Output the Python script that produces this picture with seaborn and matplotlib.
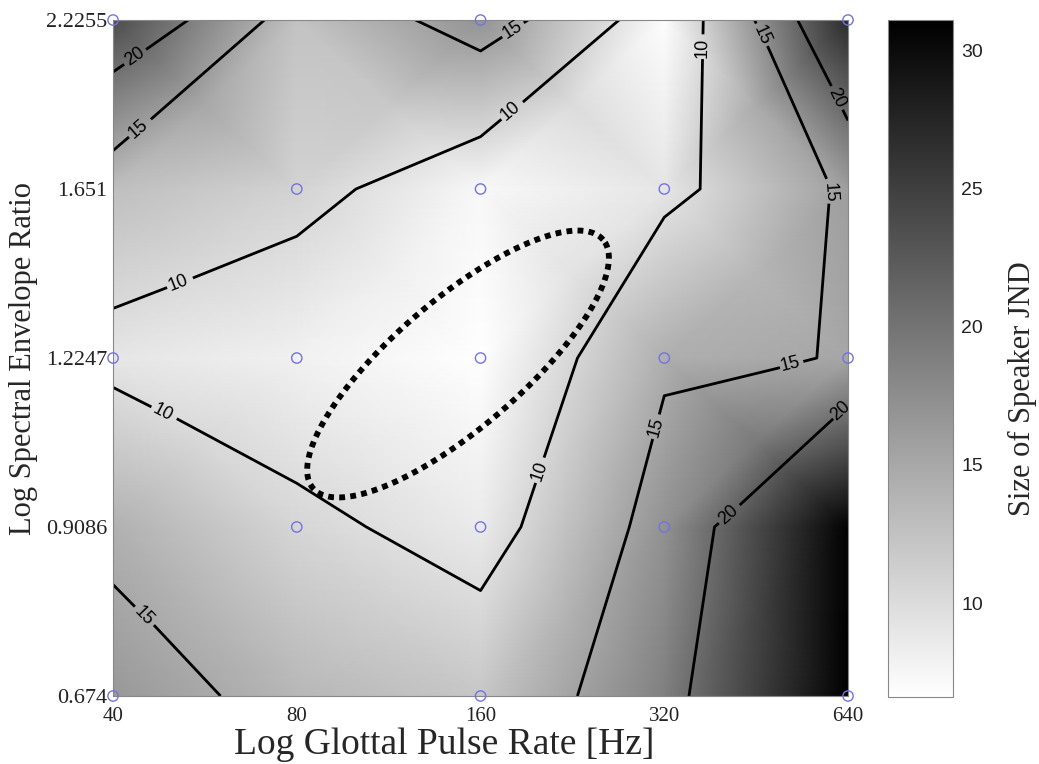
import matplotlib
matplotlib.use("Agg")
import matplotlib.pyplot as plt
import numpy as np
import seaborn as sns

sns.set_style("white")
plt.rcParams['font.family'] = ['Liberation Serif', 'DejaVu Serif']

# grid of the experiment (log spaced)
rates = [40, 80, 160, 320, 640]
ratios = [0.674, 0.9086, 1.2247, 1.651, 2.2255]
rate_labels = ['40', '80', '160', '320', '640']
ratio_labels = ['0.674', '0.9086', '1.2247', '1.651', '2.2255']

# size of speaker JND, one row per envelope ratio (bottom -> top)
jnd_0674 = [16.5, 13.5, 12.0, 18.8, 31.1]
jnd_09086 = [14.1, 10.6, 8.6, 17.1, 31.0]
jnd_12247 = [9.0, 8.0, 6.6, 14.3, 15.2]
jnd_1651 = [12.8, 10.9, 7.3, 9.0, 15.9]
jnd_22255 = [23.7, 12.4, 17.0, 6.8, 27.0]

# conditions actually measured (blue circles)
meas_rate = [40, 160, 640, 80, 160, 320, 40, 80, 160, 320, 640, 80, 160, 320, 40, 160, 640]
meas_ratio = [2.2255, 2.2255, 2.2255, 1.651, 1.651, 1.651, 1.2247, 1.2247, 1.2247, 1.2247, 1.2247,
              0.9086, 0.9086, 0.9086, 0.674, 0.674, 0.674]

levels = [10, 15, 20]

Z = np.array([jnd_0674, jnd_09086, jnd_12247, jnd_1651, jnd_22255])
X, Y = np.meshgrid(rates, ratios)

fig = plt.figure(figsize=(10.39, 7.64), dpi=100)
ax = fig.add_axes([0.1088, 0.0890, 0.7074, 0.8848])
cax = fig.add_axes([0.8547, 0.0877, 0.0626, 0.8861])

mesh = ax.pcolormesh(X, Y, Z, shading='gouraud', cmap='gray_r',
                     vmin=Z.min(), vmax=Z.max(), rasterized=True)
cs = ax.contour(X, Y, Z, levels=levels, colors='black', linewidths=2.0)

ax.set_xscale('log', base=2)
ax.set_yscale('log')
ax.set_xlim(rates[0], rates[-1])
ax.set_ylim(ratios[0], ratios[-1])
ax.set_xticks(rates)
ax.set_xticklabels(rate_labels)
ax.set_yticks(ratios)
ax.set_yticklabels(ratio_labels)
ax.minorticks_off()
ax.tick_params(direction='in', length=4, colors='#222222')
ax.tick_params(axis='x', labelsize=15, pad=8)
ax.tick_params(axis='y', labelsize=16, pad=4)
for sp in ax.spines.values():
    sp.set_color('#888888')
    sp.set_linewidth(0.8)


def frac_to_data(fx, fy):
    return (rates[0] * (rates[-1] / rates[0]) ** fx,
            ratios[0] * (ratios[-1] / ratios[0]) ** fy)


label_spots = [(0.030, 0.944), (0.039, 0.834), (0.544, 0.985), (0.540, 0.867),
               (0.091, 0.604), (0.067, 0.419), (0.822, 0.959), (0.878, 0.975),
               (0.968, 0.875), (0.966, 0.746), (0.924, 0.479), (0.737, 0.398),
               (0.985, 0.428), (0.835, 0.271), (0.577, 0.334), (0.033, 0.109)]
lbls = ax.clabel(cs, fmt='%d', fontsize=13, inline=True, inline_spacing=4,
                 manual=[frac_to_data(fx, fy) for fx, fy in label_spots])
for t in lbls:
    t.set_fontfamily(['Liberation Sans', 'DejaVu Sans'])

sns.scatterplot(x=meas_rate, y=meas_ratio, ax=ax, marker='o', s=55,
                facecolor='none', edgecolor='#7373e0', linewidth=1.0,
                clip_on=False, zorder=5, legend=False)

# dotted ellipse around the region of smallest JND (drawn in pixel geometry)
cx, cy, a, b, ang = 458, 364, 191, 64, np.deg2rad(40.6)
t = np.linspace(0, 2 * np.pi, 300)
dx = a * np.cos(t) * np.cos(ang) - b * np.sin(t) * np.sin(ang)
dy = a * np.cos(t) * np.sin(ang) + b * np.sin(t) * np.cos(ang)
ex = (cx + dx - 113) / 735
ey = (696 - (cy - dy)) / 676
ax.plot(ex, ey, transform=ax.transAxes, color='black', lw=4.2,
        linestyle=(0, (1, 0.9)), dash_capstyle='butt', zorder=6)

ax.set_xlabel('Log Glottal Pulse Rate [Hz]', fontsize=27)
ax.xaxis.set_label_coords(0.45, -0.047)
ax.set_ylabel('Log Spectral Envelope Ratio', fontsize=22, labelpad=6)

cb = fig.colorbar(mesh, cax=cax, ticks=[10, 15, 20, 25, 30])
cb.outline.set_edgecolor('#888888')
cb.outline.set_linewidth(0.8)
cax.tick_params(direction='in', length=5, left=True, right=True, labelsize=14,
                colors='#222222', pad=6)
for t in cax.get_yticklabels():
    t.set_fontfamily(['Liberation Sans', 'DejaVu Sans'])
cb.set_label('Size of Speaker JND', fontsize=22)
cax.yaxis.set_label_coords(1.85, 0.456)

fig.savefig('out.png', dpi=100)
